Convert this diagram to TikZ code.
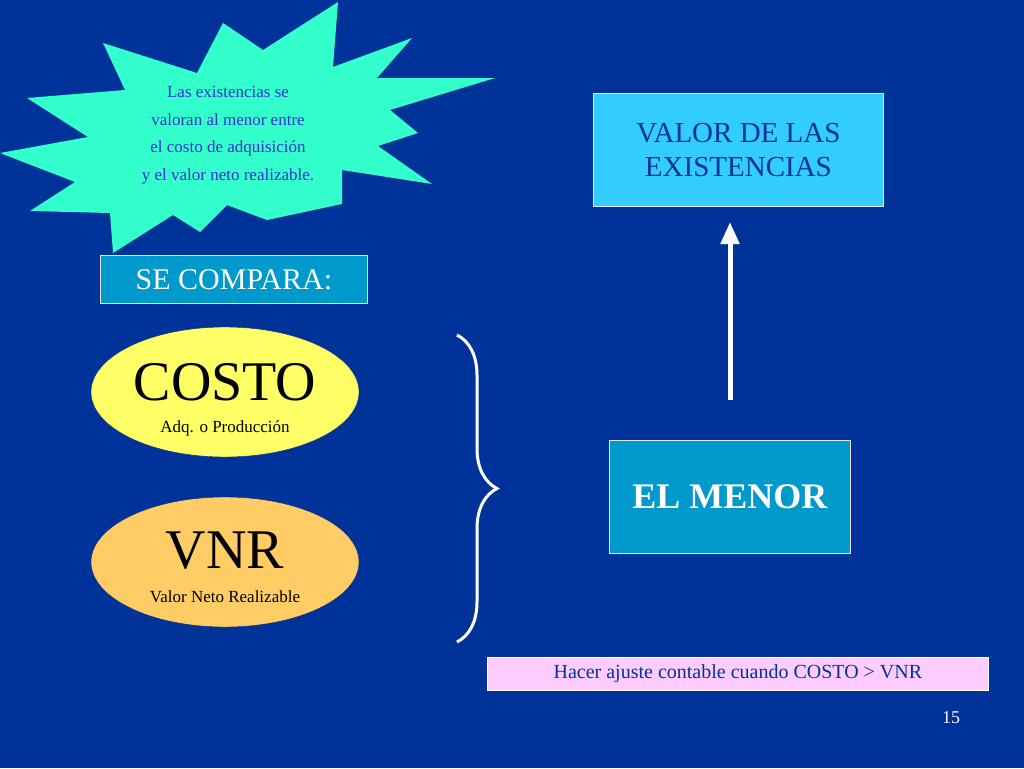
\documentclass[tikz,border=0pt]{standalone}
\usepackage{fontspec}
\setmainfont{Liberation Serif}
\usetikzlibrary{shapes.geometric,arrows.meta,decorations.pathreplacing}
\definecolor{fondo}{RGB}{0,51,153}
\definecolor{estrella}{RGB}{51,255,204}
\definecolor{celeste}{RGB}{51,204,255}
\definecolor{azulcaja}{RGB}{0,153,204}
\definecolor{amarillo}{RGB}{255,255,102}
\definecolor{naranja}{RGB}{255,204,102}
\definecolor{rosa}{RGB}{255,204,255}
\definecolor{textoazul}{RGB}{51,51,204}
\tikzset{
	caja/.style={draw=white!80!gray,line width=0.8pt,anchor=north west,inner sep=0pt,align=center},
	elipse/.style={ellipse,draw=fondo!80!black,minimum width=268,minimum height=130,inner sep=0pt}
}
\newcommand{\fs}[1]{\fontsize{#1}{1.15\dimexpr#1pt\relax}\selectfont}
\begin{document}
\begin{tikzpicture}[x=1pt,y=-1pt]
		\fill[fondo] (0,0) rectangle (1024,768);
		\useasboundingbox (0,0) rectangle (1024,768);
		
		\fill[estrella] (338,2)--(333,67)--(412,38)--(377,78)--(495,78)--(390,110)--(418,133)--(378,146)--(432,184)--(342,170)--(342,204)--(267,220)--(227,205)--(200,232)--(173,215)--(113,253)--(110,213)--(30,211)--(75,182)--(0,153)--(88,137)--(27,98)--(125,90)--(103,43)--(197,73)--(223,23)--(263,50)--cycle;
		\node (nota) at (228,135) [align=center,text=textoazul,font=\fs{17}] {Las existencias se\\[8pt] valoran al menor entre\\[8pt] el costo de adquisición\\[8pt] y el valor neto realizable.};
		
		\node (compara) [caja,fill=azulcaja,minimum width=267,minimum height=48,text=white,font=\fs{30}] at (100,255) {SE COMPARA:};
		\node (valor) [caja,fill=celeste,minimum width=290,minimum height=113,text=fondo,font=\fs{29}] at (593,93) {VALOR DE LAS\\EXISTENCIAS};
		\node (menor) [caja,fill=azulcaja,minimum width=241,minimum height=113,text=white,font=\bfseries\fs{36}] at (609,440) {EL MENOR};
		\node (ajuste) [caja,fill=rosa,draw=white,minimum width=501,minimum height=33,text=fondo,font=\fs{20}] at (487,657) {Hacer ajuste contable cuando COSTO > VNR};
		
		\node (costo) [elipse,fill=amarillo] at (225,392) {};
		\node (costoT) at (225,382) [font=\fs{56}] {COSTO};
		\node (costoS) at (225,428) [font=\fs{17}] {Adq. o Producción};
		\node (vnr) [elipse,fill=naranja] at (225,562) {};
		\node (vnrT) at (225,551) [font=\fs{56}] {VNR};
		\node (vnrS) at (225,597) [font=\fs{17}] {Valor Neto Realizable};
		
		\coordinate (llaveA) at (457,335);
		\coordinate (llaveB) at (457,642);
		\draw[white,line width=3pt,decoration={brace,amplitude=40pt},decorate] (llaveA) -- (llaveB);
		
		\coordinate (flechaA) at (730,400);
		\coordinate (flechaB) at (730,222);
		\draw[white,line width=5pt,-{Triangle[length=22pt,width=18pt]}] (flechaA) -- (flechaB);
		
		\node (pagina) at (951,718) [text=white,font=\fs{18}] {15};
\end{tikzpicture}
\end{document}
